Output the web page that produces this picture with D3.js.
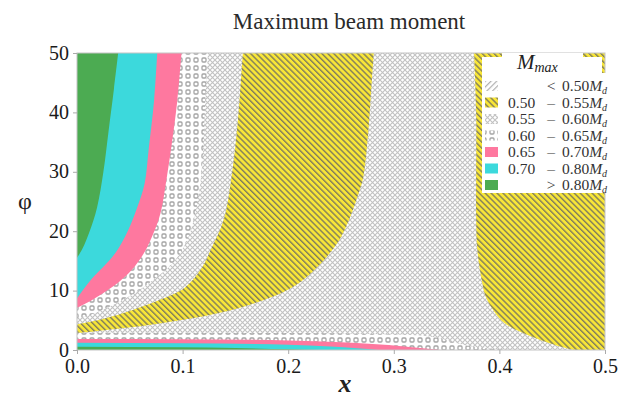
<!DOCTYPE html>
<html>
<head>
<meta charset="utf-8">
<script src="https://cdn.jsdelivr.net/npm/d3@7"></script>
<style>
  body { margin: 0; background: #fff; }
  svg { display: block; font-family: "Liberation Serif", "DejaVu Serif", serif; }
</style>
</head>
<body>
<svg id="chart" width="624" height="399"></svg>
<script>
// axis ticks
const xTicks = [0, 0.1, 0.2, 0.3, 0.4, 0.5];
const yTicks = [0, 10, 20, 30, 40, 50];

// contour edges, [x, phi]
// left (upper) regions: x of the edge for each phi, top to bottom
const greenEdge = [[0.039,50],[0.035,44],[0.030,37],[0.025,30],[0.019,24],[0.012,20],[0.005,17],[0,15.5]];
const cyanEdge = [[0.076,50],[0.073,42],[0.068,34],[0.064,28],[0.057,24],[0.048,20],[0.037,16.5],[0.025,14],[0.014,12],[0.006,10.2],[0,8.7]];
const pinkEdge = [[0.099,50],[0.095,42],[0.090,35],[0.085,29],[0.079,23],[0.072,19.5],[0.064,16.5],[0.052,13.5],[0.040,11.5],[0.025,9.6],[0.010,8],[0,7.1]];
const squareEdge = [[0.124,50],[0.121,40],[0.118,30],[0.112,23],[0.103,18],[0.090,14.5],[0.072,11.8],[0.052,9.3],[0.032,7.4],[0.014,6],[0,5.3]];

// middle yellow band (0.50-0.55): upper-left edge then lower-right edge
const yellowUpper = [[0.157,50],[0.153,40],[0.147,30],[0.139,22],[0.127,17],[0.117,13.5],[0.102,10.5],[0.078,8.4],[0.052,6.7],[0.026,5.3],[0,4.3]];
const yellowLower = [[0,2.8],[0.03,3.4],[0.06,4.0],[0.09,4.8],[0.12,5.7],[0.15,6.9],[0.175,8.3],[0.196,9.8],[0.212,11.5],[0.225,13.5],[0.238,16],[0.250,19],[0.259,22.5],[0.266,26],[0.271,29],[0.275,35],[0.278,42],[0.281,50]];
// right yellow region, left edge
const yellowRight = [[0.376,50],[0.378,40],[0.378,30],[0.378,22],[0.379,17],[0.383,12],[0.387,9],[0.395,6.5],[0.405,4.5],[0.423,2.8],[0.440,1.6],[0.455,0.7],[0.470,0]];

// thin bands along phi = 0: top of each band
const squareBand = [[0,2.9],[0.1,2.9],[0.2,2.85],[0.28,2.7],[0.32,2.5],[0.34,2.1],[0.355,1.4],[0.37,0.7],[0.39,0.25],[0.41,0]];
const pinkBand = [[0,1.85],[0.1,1.8],[0.2,1.62],[0.25,1.3],[0.28,1.0],[0.31,0.6],[0.33,0.25],[0.345,0]];
const cyanBand = [[0,1.23],[0.1,1.15],[0.2,0.9],[0.24,0.6],[0.265,0.3],[0.285,0]];
const greenBand = [[0,0.55],[0.1,0.45],[0.15,0.33],[0.2,0.13],[0.23,0]];

// legend
const legendLo = ["", "0.50", "0.55", "0.60", "0.65", "0.70", ""];
const legendSep = ["<", "\u2013", "\u2013", "\u2013", "\u2013", "\u2013", ">"];
const legendHi = ["0.50", "0.55", "0.60", "0.65", "0.70", "0.80", "0.80"];
const legendFill = ["url(#slash)", "url(#yhatch)", "url(#cross)", "url(#squares)", "#fe789f", "#3cd9dc", "#4cab52"];

const svg = d3.select("#chart");
const x = d3.scaleLinear().domain([0, 0.5]).range([77, 605]);
const y = d3.scaleLinear().domain([0, 50]).range([350, 53]);

const defs = svg.append("defs");

// 0.50-0.55 : yellow with dark diagonal stripes
const yh = defs.append("pattern").attr("id", "yhatch")
    .attr("patternUnits", "userSpaceOnUse")
    .attr("width", 4.2).attr("height", 4.2)
    .attr("patternTransform", "rotate(-45)");
yh.append("rect").attr("width", 4.2).attr("height", 4.2).attr("fill", "#f8e638");
yh.append("rect").attr("width", 1.4).attr("height", 4.2).attr("fill", "#807d5c");

// 0.55-0.60 : gray cross hatch
const cr = defs.append("pattern").attr("id", "cross")
    .attr("patternUnits", "userSpaceOnUse")
    .attr("width", 5).attr("height", 5);
cr.append("rect").attr("width", 5).attr("height", 5).attr("fill", "#fff");
cr.append("path").attr("d", "M0,0L5,5M5,0L0,5")
    .attr("stroke", "#c2c2c2").attr("stroke-width", 1.1);

// 0.60-0.65 : small gray squares
const sq = defs.append("pattern").attr("id", "squares")
    .attr("patternUnits", "userSpaceOnUse")
    .attr("width", 8).attr("height", 8);
sq.append("rect").attr("width", 8).attr("height", 8).attr("fill", "#fff");
sq.append("rect").attr("x", 2).attr("y", 2).attr("width", 4).attr("height", 4).attr("rx", 1)
    .attr("fill", "none").attr("stroke", "#a5a5a5").attr("stroke-width", 1.3);

// < 0.50 : light slashes
const sl = defs.append("pattern").attr("id", "slash")
    .attr("patternUnits", "userSpaceOnUse")
    .attr("width", 4).attr("height", 4)
    .attr("patternTransform", "rotate(45)");
sl.append("rect").attr("width", 4).attr("height", 4).attr("fill", "#fff");
sl.append("rect").attr("width", 1.2).attr("height", 4).attr("fill", "#b0b0b0");

defs.append("clipPath").attr("id", "plotclip")
    .append("rect")
    .attr("x", x(0)).attr("y", y(50))
    .attr("width", x(0.5) - x(0)).attr("height", y(0) - y(50));

const plot = svg.append("g").attr("clip-path", "url(#plotclip)");

// background level: 0.55-0.60
plot.append("rect")
    .attr("x", x(0)).attr("y", y(50))
    .attr("width", x(0.5) - x(0)).attr("height", y(0) - y(50))
    .attr("fill", "url(#cross)");

const line = d3.line().x(d => x(d[0])).y(d => y(d[1])).curve(d3.curveCatmullRom);

// yellow middle band
plot.append("path")
    .attr("d", line(yellowUpper) + line(yellowLower).replace(/^M/, "L") + "Z")
    .attr("fill", "url(#yhatch)");

// yellow right region
plot.append("path")
    .attr("d", line(yellowRight) + `L${x(0.5)},${y(0)}L${x(0.5)},${y(50)}Z`)
    .attr("fill", "url(#yhatch)");

// left regions, nested
const leftArea = d3.area()
    .y(d => y(d[1]))
    .x0(x(0))
    .x1(d => x(d[0]))
    .curve(d3.curveCatmullRom);

[[squareEdge, "url(#squares)"], [pinkEdge, "#fe789f"], [cyanEdge, "#3cd9dc"], [greenEdge, "#4cab52"]]
    .forEach(([edge, fill]) => {
        plot.append("path").attr("d", leftArea(edge)).attr("fill", fill);
    });

// bands along the bottom
const bottomArea = d3.area()
    .x(d => x(d[0]))
    .y0(y(0))
    .y1(d => y(d[1]))
    .curve(d3.curveMonotoneX);

[[squareBand, "url(#squares)"], [pinkBand, "#fe789f"], [cyanBand, "#3cd9dc"], [greenBand, "#4cab52"]]
    .forEach(([band, fill]) => {
        plot.append("path").attr("d", bottomArea(band)).attr("fill", fill);
    });

// frame
svg.append("rect")
    .attr("x", x(0)).attr("y", y(50))
    .attr("width", x(0.5) - x(0)).attr("height", y(0) - y(50))
    .attr("fill", "none").attr("stroke", "#c4c4c4").attr("stroke-width", 1);

// axes
const xAxis = svg.append("g")
    .attr("transform", `translate(0,${y(0)})`)
    .call(d3.axisBottom(x).tickValues(xTicks).tickFormat(d3.format(".1f")).tickSizeOuter(0).tickSize(4).tickPadding(5));
const yAxis = svg.append("g")
    .attr("transform", `translate(${x(0)},0)`)
    .call(d3.axisLeft(y).tickValues(yTicks).tickSizeOuter(0).tickSize(4).tickPadding(4));

[xAxis, yAxis].forEach(g => {
    g.select(".domain").remove();
    g.selectAll(".tick line").attr("stroke", "#aaa");
    g.selectAll(".tick text")
        .attr("fill", "#1a1a1a")
        .style("font-family", "'Liberation Serif', serif")
        .style("font-size", "20px");
});
yAxis.selectAll(".tick text").attr("dy", "0.3em");

// title and labels
svg.append("text")
    .attr("x", 349).attr("y", 29)
    .attr("text-anchor", "middle")
    .style("font-size", "23px")
    .attr("fill", "#2a2a2a")
    .text("Maximum beam moment");

svg.append("text")
    .attr("x", 345).attr("y", 392)
    .attr("text-anchor", "middle")
    .style("font-size", "26px")
    .style("font-style", "italic")
    .style("font-weight", "bold")
    .attr("fill", "#222")
    .text("x");

svg.append("text")
    .attr("x", 25).attr("y", 209)
    .attr("text-anchor", "middle")
    .style("font-size", "24px")
    .attr("fill", "#222")
    .text("\u03c6");

// legend box
const lg = svg.append("g");
lg.append("rect").attr("x", 482).attr("y", 57).attr("width", 120).attr("height", 136).attr("fill", "#fff");
lg.append("rect").attr("x", 590).attr("y", 73).attr("width", 22).attr("height", 120).attr("fill", "#fff");
lg.append("rect").attr("x", 502).attr("y", 53).attr("width", 81).attr("height", 5).attr("fill", "#fff");

const lt = lg.append("text")
    .attr("x", 517).attr("y", 69)
    .style("font-style", "italic")
    .attr("fill", "#222");
lt.append("tspan").style("font-size", "21px").text("M");
lt.append("tspan").attr("dy", 3).style("font-size", "14px").text("max");

const rowY = d3.range(legendHi.length).map(i => 86 + i * 16.5);

legendHi.forEach((hi, i) => {
    const ry = rowY[i];
    lg.append("rect")
        .attr("x", 485).attr("y", ry - 5)
        .attr("width", 13).attr("height", 10)
        .attr("fill", legendFill[i]);
    if (legendLo[i]) {
        lg.append("text").attr("x", 508).attr("y", ry + 5)
            .style("font-size", "15.5px").attr("fill", "#333")
            .text(legendLo[i]);
    }
    lg.append("text").attr("x", 551).attr("y", ry + 5)
        .attr("text-anchor", "middle")
        .style("font-size", "15.5px").attr("fill", "#333")
        .text(legendSep[i]);
    const t = lg.append("text").attr("x", 562).attr("y", ry + 5)
        .style("font-size", "15.5px").attr("fill", "#333");
    t.append("tspan").text(hi);
    t.append("tspan").style("font-style", "italic").text("M");
    t.append("tspan").attr("dy", 3).style("font-style", "italic").style("font-size", "10px").text("d");
});
</script>
</body>
</html>
